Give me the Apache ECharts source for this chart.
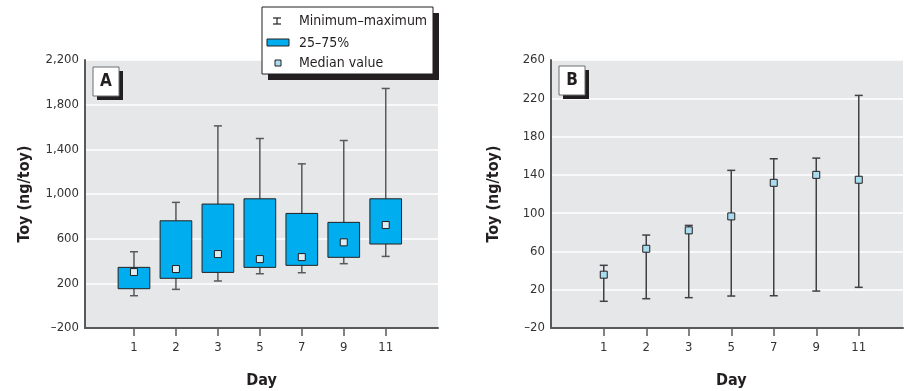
<!DOCTYPE html>
<html>
<head>
<meta charset="utf-8">
<script src="https://cdn.jsdelivr.net/npm/echarts@6/dist/echarts.min.js"></script>
<style>
html, body { margin: 0; padding: 0; background: #fff; }
#chart { width: 904px; height: 391px; }
</style>
</head>
<body>
<div id="chart"></div>
<script>
// days sampled
var days = ['1', '2', '3', '5', '7', '9', '11'];

// panel A : box plot values (ng/toy)
var aMin = [89, 146, 221, 286, 295, 376, 441];
var aQ1 = [152, 245, 298, 343, 361, 433, 552];
var aMed = [301, 328, 462, 417, 435, 567, 722];
var aQ3 = [343, 760, 910, 957, 826, 746, 957];
var aMax = [483, 925, 1610, 1497, 1270, 1479, 1945];

// panel B : min / median / max (ng/toy)
var bMin = [7.9, 10.6, 11.7, 13.4, 13.7, 18.6, 22.5];
var bMed = [35.7, 62.8, 82, 96.6, 131.7, 140, 134.9];
var bMax = [45.5, 77.1, 87.2, 144.7, 156.8, 157.5, 223];

// axis ranges
var aAxis = { min: -200, max: 2200, step: 400 };
var bAxis = { min: -20, max: 260, step: 40 };

var FONT = "'DejaVu Sans Condensed', 'Liberation Sans', sans-serif";
var AXIS_COL = '#58595b';
var INK = '#231f20';

function fmt(v) {
    var s = Math.abs(v).toString().replace(/\B(?=(\d{3})+(?!\d))/g, ',');
    return v < 0 ? '\u2013' + s : s;
}

// box + whiskers for panel A
function renderBox(params, api) {
    var x = api.value(0);
    var lo = api.coord([x, api.value(1)]);
    var q1 = api.coord([x, api.value(2)]);
    var q3 = api.coord([x, api.value(3)]);
    var hi = api.coord([x, api.value(4)]);
    var bw = api.size([1, 0])[0] * 0.755;
    var cap = 4;
    var ls = { stroke: AXIS_COL, lineWidth: 1.5 };
    return {
        type: 'group',
        children: [
            { type: 'line', shape: { x1: hi[0], y1: hi[1], x2: q3[0], y2: q3[1] }, style: ls },
            { type: 'line', shape: { x1: hi[0] - cap, y1: hi[1], x2: hi[0] + cap, y2: hi[1] }, style: ls },
            { type: 'line', shape: { x1: q1[0], y1: q1[1], x2: lo[0], y2: lo[1] }, style: ls },
            { type: 'line', shape: { x1: lo[0] - cap, y1: lo[1], x2: lo[0] + cap, y2: lo[1] }, style: ls },
            {
                type: 'rect',
                shape: { x: q3[0] - bw / 2, y: q3[1], width: bw, height: q1[1] - q3[1] },
                style: { fill: '#00aeef', stroke: INK, lineWidth: 1 }
            }
        ]
    };
}

// min-max bar for panel B
function renderRange(params, api) {
    var x = api.value(0);
    var lo = api.coord([x, api.value(1)]);
    var hi = api.coord([x, api.value(2)]);
    var cap = 4;
    var ls = { stroke: '#414042', lineWidth: 1.5 };
    return {
        type: 'group',
        children: [
            { type: 'line', shape: { x1: hi[0], y1: hi[1], x2: lo[0], y2: lo[1] }, style: ls },
            { type: 'line', shape: { x1: hi[0] - cap, y1: hi[1], x2: hi[0] + cap, y2: hi[1] }, style: ls },
            { type: 'line', shape: { x1: lo[0] - cap, y1: lo[1], x2: lo[0] + cap, y2: lo[1] }, style: ls }
        ]
    };
}

var titleStyle = { fontFamily: FONT, fontSize: 16, fontWeight: 'bold', color: INK };
var tickStyle = { fontFamily: FONT, fontSize: 13, color: '#333' };

function bgY(idx, r, gap) {
    return {
        gridIndex: idx, type: 'value', min: r.min, max: r.max, interval: r.step,
        name: 'Toy (ng/toy)', nameLocation: 'middle', nameGap: gap,
        nameTextStyle: titleStyle,
        axisLine: { show: true, lineStyle: { color: AXIS_COL, width: 2 } },
        axisTick: { show: false },
        axisLabel: Object.assign({ formatter: fmt, margin: 6 }, tickStyle),
        splitLine: { show: true, lineStyle: { color: '#ffffff', width: 1.5 } }
    };
}

function bgX(idx, withName) {
    return {
        gridIndex: idx, type: 'value', min: 0, max: 1,
        name: withName ? 'Day' : '', nameLocation: 'middle', nameGap: 45,
        nameTextStyle: titleStyle,
        axisLine: { show: true, onZero: false, lineStyle: { color: AXIS_COL, width: 2 } },
        axisTick: { show: false }, axisLabel: { show: false }, splitLine: { show: false }
    };
}

function dataX(idx, withName) {
    return {
        gridIndex: idx, type: 'category', data: days, boundaryGap: true,
        name: withName ? 'Day' : '', nameLocation: 'middle', nameGap: 45,
        nameTextStyle: titleStyle,
        axisLine: { show: false, onZero: false },
        axisTick: { show: true, alignWithLabel: true, length: 8, lineStyle: { color: AXIS_COL, width: 1.5 } },
        axisLabel: Object.assign({ margin: 13 }, tickStyle),
        splitLine: { show: false }
    };
}

function dataY(idx, r) {
    return { gridIndex: idx, type: 'value', min: r.min, max: r.max, show: false, splitLine: { show: false } };
}

// framed panel letter with a hard drop shadow
function panelTag(x, y, letter) {
    return [
        { type: 'rect', z: 50, shape: { x: x + 4, y: y + 4, width: 26, height: 29 }, style: { fill: INK } },
        { type: 'rect', z: 51, shape: { x: x, y: y, width: 26, height: 29 }, style: { fill: '#fff', stroke: '#6d6e71', lineWidth: 1 } },
        {
            type: 'text', z: 52, x: x + 13, y: y + 15,
            style: { text: letter, fontFamily: FONT, fontSize: 17, fontWeight: 'bold', fill: INK, align: 'center', verticalAlign: 'middle' }
        }
    ];
}

var legendText = ['Minimum\u2013maximum', '25\u201375%', 'Median value'];
var LX = 262, LY = 7;

function legendLabel(dy, t) {
    return { type: 'text', z: 62, x: LX + 37, y: LY + dy, style: { text: t, fontFamily: FONT, fontSize: 14, fill: INK, verticalAlign: 'middle' } };
}

var legend = [
    { type: 'rect', z: 60, shape: { x: LX + 6, y: LY + 6, width: 171, height: 67 }, style: { fill: INK } },
    { type: 'rect', z: 61, shape: { x: LX, y: LY, width: 171, height: 67 }, style: { fill: '#fff', stroke: INK, lineWidth: 1 } },
    { type: 'line', z: 62, shape: { x1: LX + 15, y1: LY + 11, x2: LX + 15, y2: LY + 17 }, style: { stroke: INK, lineWidth: 1.2 } },
    { type: 'line', z: 62, shape: { x1: LX + 11, y1: LY + 11, x2: LX + 19, y2: LY + 11 }, style: { stroke: INK, lineWidth: 1.2 } },
    { type: 'line', z: 62, shape: { x1: LX + 11, y1: LY + 17, x2: LX + 19, y2: LY + 17 }, style: { stroke: INK, lineWidth: 1.2 } },
    { type: 'rect', z: 62, shape: { x: LX + 5, y: LY + 32, width: 22, height: 7 }, style: { fill: '#00aeef', stroke: INK, lineWidth: 1 } },
    { type: 'rect', z: 62, shape: { x: LX + 13, y: LY + 53, width: 6, height: 6 }, style: { fill: '#a9dcee', stroke: INK, lineWidth: 1 } },
    legendLabel(14, legendText[0]),
    legendLabel(36, legendText[1]),
    legendLabel(56, legendText[2])
];

var gridBase = { top: 60, bottom: 63, outerBoundsMode: 'none', containLabel: false };

var option = {
    animation: false,
    backgroundColor: '#ffffff',
    grid: [
        Object.assign({ left: 85, right: 466, show: true, backgroundColor: '#e6e7e8', borderWidth: 0 }, gridBase),
        Object.assign({ left: 113, right: 497.3 }, gridBase),
        Object.assign({ left: 551, right: 1, show: true, backgroundColor: '#e6e7e8', borderWidth: 0 }, gridBase),
        Object.assign({ left: 582.5, right: 24 }, gridBase)
    ],
    xAxis: [bgX(0, true), dataX(1, false), bgX(2, false), dataX(3, true)],
    yAxis: [bgY(0, aAxis, 52), dataY(1, aAxis), bgY(2, bAxis, 49), dataY(3, bAxis)],
    graphic: { elements: panelTag(93, 67, 'A').concat(panelTag(559, 66, 'B'), legend) },
    series: [
        {
            name: 'Minimum\u2013maximum', type: 'custom', xAxisIndex: 1, yAxisIndex: 1, silent: true,
            renderItem: renderBox,
            encode: { x: 0, y: [1, 2, 3, 4] },
            data: days.map(function(d, i) { return [i, aMin[i], aQ1[i], aQ3[i], aMax[i]]; }),
            z: 5
        },
        {
            name: 'Median value', type: 'scatter', xAxisIndex: 1, yAxisIndex: 1, silent: true,
            symbol: 'rect', symbolSize: 7,
            itemStyle: { color: '#dcecf3', borderColor: INK, borderWidth: 1, opacity: 1 },
            data: days.map(function(d, i) { return [i, aMed[i]]; }),
            z: 6
        },
        {
            name: 'Range B', type: 'custom', xAxisIndex: 3, yAxisIndex: 3, silent: true,
            renderItem: renderRange,
            encode: { x: 0, y: [1, 2] },
            data: days.map(function(d, i) { return [i, bMin[i], bMax[i]]; }),
            z: 5
        },
        {
            name: 'Median B', type: 'scatter', xAxisIndex: 3, yAxisIndex: 3, silent: true,
            symbol: 'rect', symbolSize: 7,
            itemStyle: { color: '#a9dcee', borderColor: INK, borderWidth: 1, opacity: 1 },
            data: days.map(function(d, i) { return [i, bMed[i]]; }),
            z: 6
        }
    ]
};

var chart = echarts.init(document.getElementById('chart'), null, { renderer: 'canvas' });
chart.setOption(option);
</script>
</body>
</html>
